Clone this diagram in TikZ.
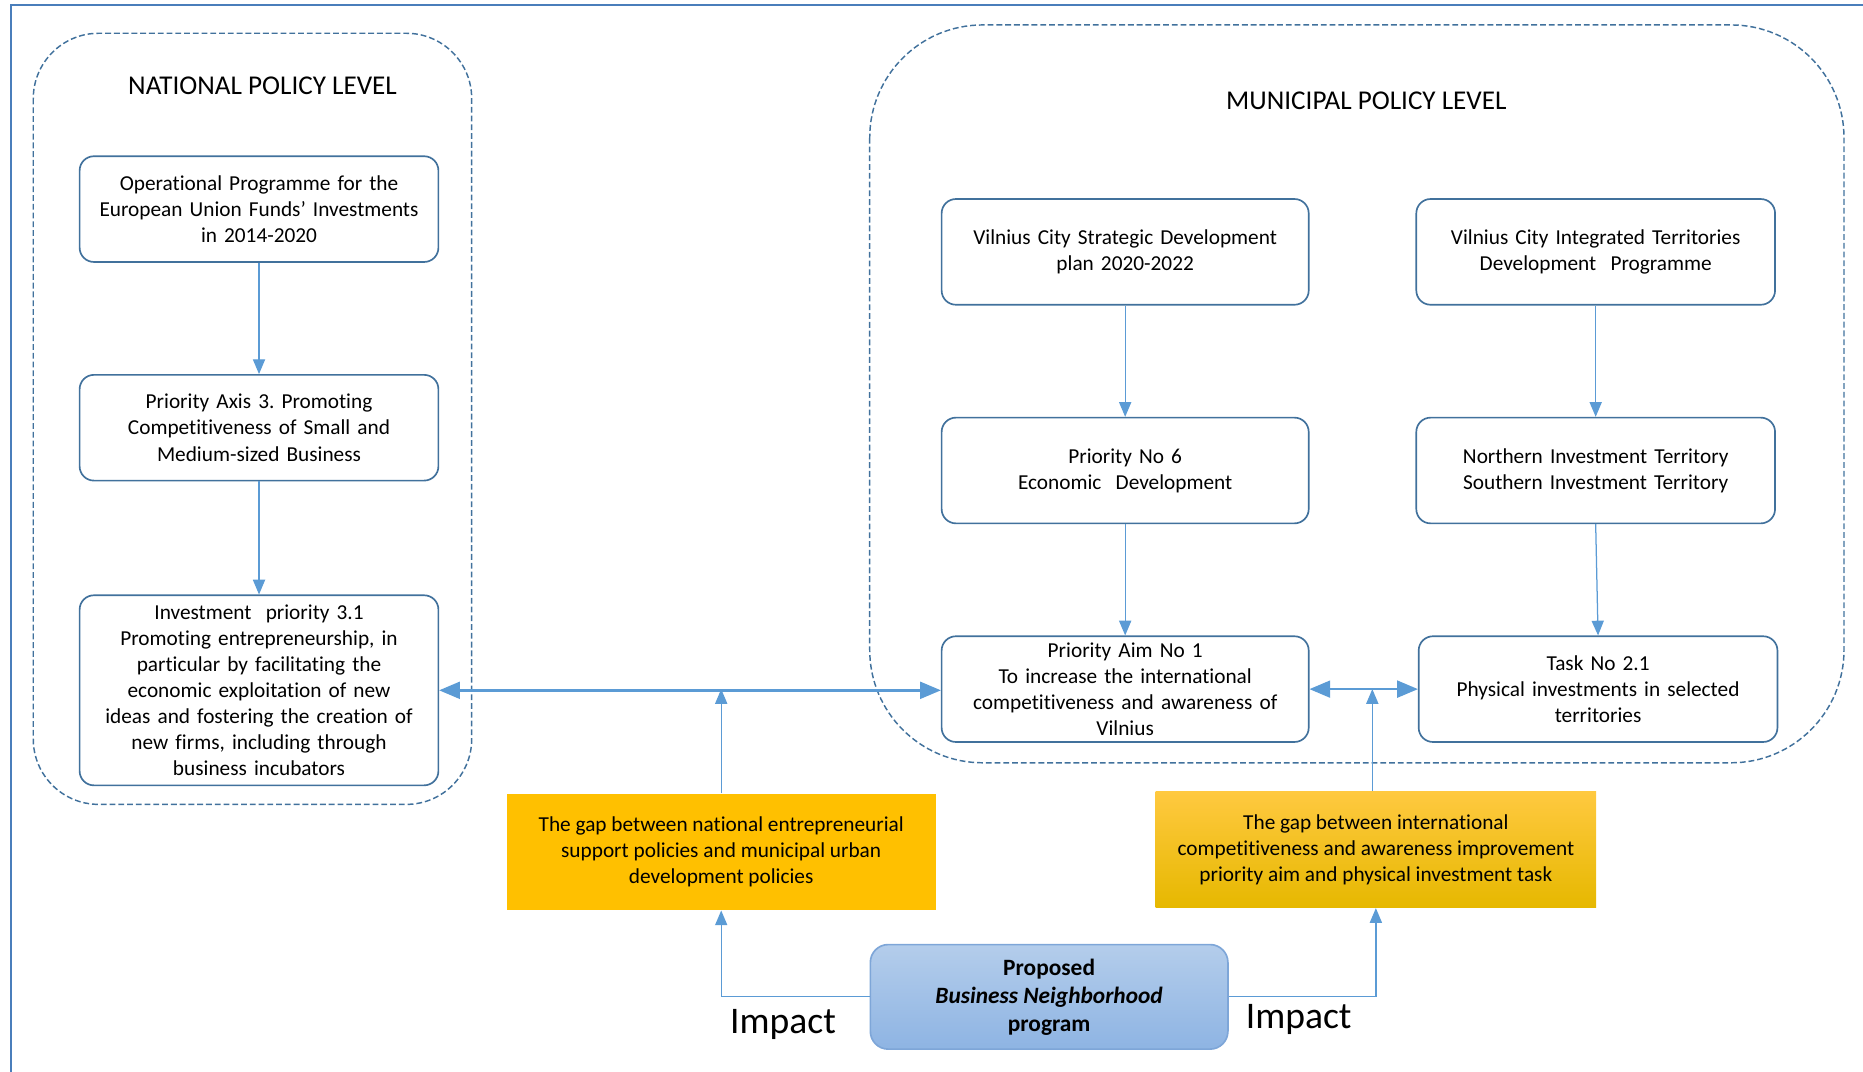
\documentclass[tikz,border=0pt]{standalone}
\usepackage{fontspec}
\setmainfont{Carlito}[Ligatures={TeX,NoCommon}]
\usetikzlibrary{arrows}
\frenchspacing

\definecolor{boxline}{RGB}{65,113,156}
\definecolor{arrowblue}{RGB}{91,155,213}
\definecolor{framecol}{RGB}{74,126,187}
\definecolor{gapfill}{RGB}{255,192,0}
\definecolor{gaptop}{RGB}{255,201,64}
\definecolor{gapbottom}{RGB}{230,184,0}
\definecolor{progtop}{RGB}{180,205,235}
\definecolor{progbottom}{RGB}{142,180,227}
\definecolor{progline}{RGB}{126,166,216}

\begin{document}
\begin{tikzpicture}[x=0.02cm, y=-0.02cm, >=triangle 45,
    font=\fontsize{10.2}{12.5}\selectfont,
    policybox/.style={draw=boxline, line width=0.8pt, rounded corners=0.24cm, fill=white,
      minimum width=6.04cm, minimum height=1.78cm, text width=5.9cm, align=center, inner sep=1pt},
    levelbox/.style={draw=boxline, dash pattern=on 2.8pt off 1.4pt, line width=0.7pt},
    leveltitle/.style={font=\fontsize{13}{15}\selectfont},
    gapbox/.style={minimum height=1.96cm, align=center, inner sep=1pt},
    flow/.style={->, draw=arrowblue, line width=0.6pt},
    link/.style={<->, draw=arrowblue, line width=1.3pt},
    impact/.style={font=\fontsize{18}{21}\selectfont}]
\useasboundingbox (0,0) rectangle (1568,902);

% outer frame
\draw[framecol, line width=1.1pt] (1568,4) -- (9,4) -- (9,902);

% policy levels
\draw[levelbox, rounded corners=1.1cm] (28,28) rectangle (397,677);
\draw[levelbox, rounded corners=1.9cm] (732,21) rectangle (1552,642);
\node[leveltitle] (natl) at (221,72) {NATIONAL POLICY LEVEL};
\node[leveltitle] (muni) at (1150,85) {MUNICIPAL POLICY LEVEL};

% national
\node[policybox] (opprog) at (218,176) {Operational Programme for the\\European Union Funds’ Investments\\in 2014-2020};
\node[policybox] (axis3) at (218,360) {Priority Axis 3. Promoting\\Competitiveness of Small and\\Medium-sized Business};
\node[policybox, minimum height=3.2cm] (invprio) at (218,581) {Investment~ priority 3.1\\Promoting entrepreneurship, in\\particular by facilitating the\\economic exploitation of new\\ideas and fostering the creation of\\new firms, including through\\business incubators};

% municipal
\node[policybox, minimum width=6.18cm] (stratplan) at (947,212) {Vilnius City Strategic Development\\plan 2020-2022};
\node[policybox] (integprog) at (1343,212) {Vilnius City Integrated Territories\\Development~ Programme};
\node[policybox, minimum width=6.18cm] (prio6) at (947,396) {Priority No 6\\Economic~ Development};
\node[policybox] (territ) at (1343,396) {Northern Investment Territory\\Southern Investment Territory};
\node[policybox, minimum width=6.18cm] (aim1) at (947,580) {Priority Aim No 1\\To increase the international\\competitiveness and awareness of\\Vilnius};
\node[policybox] (task21) at (1345,580) {Task No 2.1\\Physical investments in selected\\territories};

% gaps
\node[gapbox, fill=gapfill, minimum width=7.22cm] (gapnat) at (607,717) {The gap between national entrepreneurial\\support policies and municipal urban\\development policies};
\node[gapbox, top color=gaptop, bottom color=gapbottom, minimum width=7.42cm] (gapmun) at (1158,715) {The gap between international\\competitiveness and awareness improvement\\priority aim and physical investment task};

% program
\node[draw=progline, line width=0.8pt, rounded corners=0.3cm, top color=progtop, bottom color=progbottom,
  minimum width=6.02cm, minimum height=1.76cm, align=center, font=\fontsize{11.2}{13.4}\selectfont] (program) at (883,839)
  {\textbf{Proposed}\\\textbf{\textit{Business Neighborhood}}\\\textbf{program}};

% flows
\draw[flow] (opprog) -- (axis3);
\draw[flow] (axis3) -- (invprio);
\draw[flow] (stratplan) -- (prio6);
\draw[flow] (prio6) -- (aim1);
\draw[flow] (integprog) -- (territ);
\draw[flow] (territ.south) -- (task21.north);

\draw[link] (invprio.east) -- (invprio.east -| aim1.west);
\draw[link] (aim1.east) -- (aim1.east -| task21.west);
\coordinate (joinnat) at (607,580);
\coordinate (joinmun) at (1155,580);
\draw[flow] (gapnat.north) -- (joinnat);
\draw[flow] (gapmun.north -| joinmun) -- (joinmun);

\draw[flow] (program.west) -| (gapnat.south);
\draw[flow] (program.east) -| (gapmun.south);
\node[impact] (impactnat) at (659,862) {Impact};
\node[impact] (impactmun) at (1093,858) {Impact};
\end{tikzpicture}
\end{document}
